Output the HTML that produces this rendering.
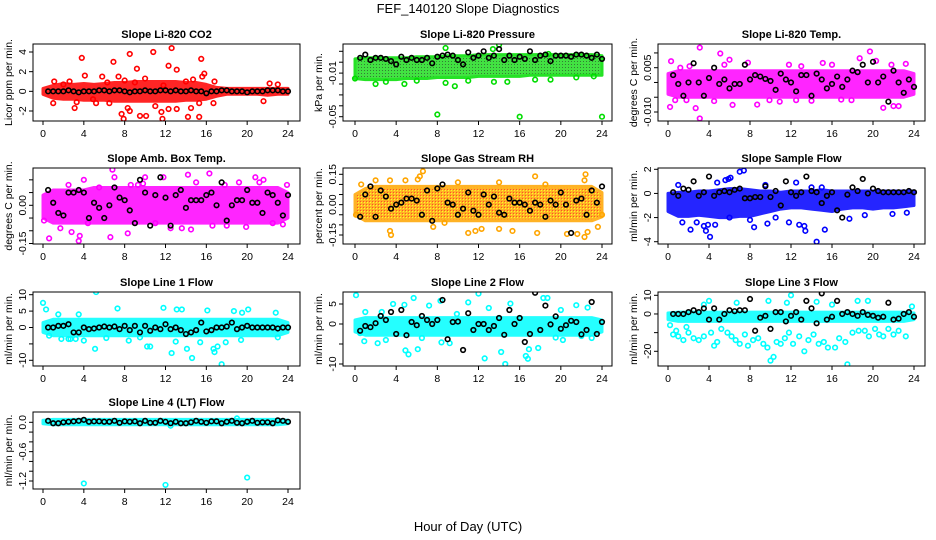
<!DOCTYPE html>
<html><head><meta charset="utf-8"><style>
body{margin:0;background:#fff;}
svg{display:block;font-family:"Liberation Sans",Arial,sans-serif;}
.t{font-size:11px;font-weight:bold;text-anchor:middle;}
.tk{font-size:10.5px;text-anchor:middle;}
.yl{font-size:10.5px;text-anchor:middle;}
</style></head><body>
<svg id="fig" width="936" height="540" viewBox="0 0 936 540">
<defs>
<pattern id="pat-green" width="3" height="3" patternUnits="userSpaceOnUse"><rect width="3" height="3" fill="#22dd22"/><rect x="1" y="1" width="1" height="1" fill="#116611"/></pattern>
<pattern id="pat-orange" width="3" height="3" patternUnits="userSpaceOnUse"><rect width="3" height="3" fill="#ffa500"/><rect x="1" y="1" width="1" height="1" fill="#ffff00"/><rect x="0" y="0" width="1" height="1" fill="#ff3300"/></pattern>
</defs>
<rect width="936" height="540" fill="#fff"/>
<text x="468" y="13" style="font-size:13px" text-anchor="middle">FEF_140120  Slope Diagnostics</text>
<text x="468" y="531" style="font-size:13px" text-anchor="middle">Hour of Day (UTC)</text>
</svg>
<script>
// ---------- data ----------
const blackHours=[0.5,1,1.5,2,2.5,3,3.5,4,4.5,5,5.5,6,6.5,7,7.5,8,8.5,9,9.5,10,10.5,11,11.5,12,12.5,13,13.5,14,14.5,15,15.5,16,16.5,17,17.5,18,18.5,19,19.5,20,20.5,21,21.5,22,22.5,23,23.5,24];
const bandHours=[0,1,2,3,4,5,6,7,8,9,10,11,12,13,14,15,16,17,18,19,20,21,22,23,24];
const xTicks=[0,4,8,12,16,20,24];

const p1Black=[0,0,0,0,0.1,0,-0.1,0,0,0,0.1,0.1,0,0.1,0.1,0,-0.1,0,0,0.1,0,0,0.1,0.1,0,0.1,0,0,0.1,0,0,-0.2,0,0,0.1,0.1,0,0,0,-0.1,0,0,0,0.1,0.1,0.1,0,0];
const p1BandLo=[-0.3,-0.7,-0.8,-0.8,-0.9,-0.9,-0.9,-1.0,-1.0,-1.0,-1.0,-1.0,-1.0,-1.0,-0.9,-0.9,-0.8,-0.5,-0.3,-0.3,-0.3,-0.3,-0.4,-0.3,-0.3];
const p1BandHi=[0.3,0.6,0.8,0.7,0.8,0.7,0.8,0.9,0.9,1.0,1.0,1.0,1.0,1.0,0.9,0.9,0.7,0.4,0.3,0.3,0.3,0.3,0.3,0.3,0.3];
const p1PtX=[3.8,4.1,5.8,6.9,7.4,8.5,9.2,10.8,12.3,12.6,13.1,15.5,15.6,15.8,16.8,1.1,2.6,3.1,3.3,1.0,5.2,6.5,7.7,7.9,8.3,8.5,9.5,10.1,11.0,11.6,11.7,12.3,13.1,14.2,14.5,15.3,15.3,16.7,21.6,22.2,23.0,8.0,9.0,10.0,11.8,14.0,14.7,2.0,4.9,6.3];
const p1PtY=[3.4,1.6,1.5,3.0,1.5,3.8,2.3,4.0,2.6,4.4,2.2,3.3,1.5,1.8,1.0,1.0,1.0,-1.7,-1.1,-1.2,-1.2,-1.2,-2.3,-2.8,-1.7,-2.0,-2.5,-2.5,-1.5,-2.1,-2.8,-1.8,-1.8,-2.6,-1.7,-2.6,-1.2,-1.2,-1.0,0.8,0.7,1.1,0.9,1.3,0.6,1.0,1.2,0.7,-0.8,0.9];

const p2Black=[0.004,0.007,0.002,0.004,0.004,0.003,0.001,-0.002,0.005,0.002,0.004,0.002,0.002,0.004,-0.001,0.005,0.006,0.007,0.006,0.002,-0.002,0.009,0.004,0.006,0.010,0.004,0.006,0.012,0.002,0.006,0.002,0.005,0.003,0.010,0.002,0.006,0.007,0.001,0.006,0.006,0.006,0.005,0.007,0.007,0.006,0.004,0.007,0.003];
const p2BandLo=[-0.015,-0.016,-0.016,-0.016,-0.016,-0.015,-0.015,-0.015,-0.014,-0.014,-0.014,-0.014,-0.013,-0.013,-0.013,-0.013,-0.013,-0.012,-0.012,-0.012,-0.012,-0.012,-0.012,-0.012,-0.012];
const p2BandHi=[0.003,0.004,0.004,0.004,0.004,0.004,0.005,0.005,0.005,0.006,0.006,0.006,0.007,0.007,0.007,0.007,0.007,0.007,0.007,0.007,0.007,0.007,0.007,0.007,0.006];
const p2PtX=[8,16,24,9.7,2,4.8,8.8,13.5,14.8,8.8,14,13.4,18.8,0,3,6,11,17.5,21.5,23.2,19];
const p2PtY=[-0.048,-0.05,-0.05,-0.022,-0.02,-0.02,-0.019,-0.018,-0.018,0.013,0.016,0.012,0.0075,-0.015,-0.018,-0.017,-0.017,-0.016,-0.014,-0.013,-0.016];

const p3Black=[0.0025,-0.0005,-0.0045,0,0.0065,0,-0.0045,0.0015,0.005,-0.0005,0.001,-0.002,-0.0005,-0.0005,0.006,0.001,0.0025,0.002,0.0012,0.0005,-0.0025,0.003,0.001,0,-0.003,0.0025,0.0025,-0.0045,0.003,0.001,-0.002,-0.0005,0.002,-0.0015,0.001,0.004,0.0035,0.006,0,0.007,0,0.002,-0.0065,0.004,0,-0.0035,0.001,-0.0015];
const p3BandLo=[-0.004,-0.005,-0.005,-0.005,-0.005,-0.005,-0.005,-0.005,-0.005,-0.005,-0.005,-0.005,-0.005,-0.005,-0.005,-0.005,-0.005,-0.005,-0.005,-0.005,-0.005,-0.005,-0.005,-0.005,-0.004];
const p3BandHi=[0.003,0.004,0.004,0.004,0.004,0.004,0.004,0.004,0.004,0.004,0.004,0.004,0.004,0.004,0.004,0.004,0.004,0.004,0.004,0.004,0.004,0.004,0.004,0.004,0.003];
const p3PtX=[0.2,0.3,3.1,3.1,2.7,5.1,6.0,6.3,8.7,19.7,18.7,22.0,22.5,20.3,21.0,12.5,10.9,14.0,16.9,0.7,1.8,4.5,7.8,15.1,23.2,9.9,17.9,2.1,11.8,1.2,5.5,13,16,21.8];
const p3PtY=[-0.0083,0.0072,0.0118,-0.0122,-0.0087,0.0098,0.0077,-0.0076,-0.0075,0.0105,0.0082,-0.008,-0.008,0.0073,-0.0086,-0.006,-0.0065,-0.0062,-0.0058,-0.006,-0.006,-0.0063,0.0067,0.0066,0.0063,-0.006,-0.006,0.0055,0.006,0.005,0.006,0.0055,0.006,0.006];

const p4Black=[0.06,0.01,-0.03,-0.04,0.05,0.05,0.06,0.05,-0.05,0.01,-0.01,-0.05,0,0.07,0.03,0.02,-0.02,-0.07,0.1,0.05,-0.08,0.04,0.11,0.03,-0.08,0.04,0.06,-0.01,0.02,0.02,0.02,0.04,0.05,0,0.09,-0.06,0,0.02,0.02,0.06,0.01,0.01,-0.03,0.05,0.04,0.01,-0.04,0.04];
const p4BandLo=[-0.05,-0.07,-0.07,-0.07,-0.07,-0.07,-0.07,-0.07,-0.07,-0.07,-0.07,-0.07,-0.07,-0.07,-0.07,-0.07,-0.07,-0.07,-0.07,-0.07,-0.07,-0.07,-0.07,-0.07,-0.05];
const p4BandHi=[0.04,0.06,0.06,0.06,0.06,0.07,0.07,0.07,0.07,0.07,0.07,0.07,0.07,0.07,0.07,0.07,0.07,0.07,0.07,0.07,0.07,0.07,0.07,0.07,0.05];
const p4PtX=[0.6,3.5,3.6,4.0,6.6,6.8,7.0,10.0,11.8,16.3,16.6,20.8,21.6,23.9,0.1,1.7,2.8,8.3,9.3,13.6,14.5,15,19.2,22.5,23.5,5.5,12.5,18,8.6,4.4,11,17.8,2.5,9.8,14.2,19.9,21.2];
const p4PtY=[-0.13,-0.14,-0.12,0.10,-0.125,0.14,0.11,0.11,0.11,0.125,-0.08,0.11,0.1,0.08,-0.06,-0.09,-0.105,-0.11,0.08,-0.09,-0.095,0.09,0.09,-0.07,-0.075,0.07,-0.09,-0.08,0.08,-0.07,-0.07,0.08,0.08,0.085,0.12,-0.085,0.09];

const p5Black=[-0.06,0.05,0.09,-0.06,0.07,0.04,-0.02,0,0.01,0.03,0.03,0.02,-0.05,0.07,-0.08,0.08,0.1,0.01,0,-0.05,-0.02,0.06,-0.03,-0.05,0.05,0,0.04,-0.04,-0.05,0.03,0.01,0.01,0,-0.03,0.01,0,-0.06,0.02,0,0.06,0,-0.14,0.02,0.03,-0.05,0.07,0.01,0.09];
const p5BandLo=[-0.05,-0.08,-0.08,-0.08,-0.08,-0.08,-0.08,-0.08,-0.08,-0.08,-0.08,-0.08,-0.08,-0.08,-0.08,-0.08,-0.08,-0.08,-0.08,-0.08,-0.08,-0.08,-0.08,-0.08,-0.06];
const p5BandHi=[0.05,0.08,0.09,0.09,0.09,0.09,0.09,0.09,0.09,0.09,0.09,0.09,0.09,0.09,0.09,0.09,0.09,0.09,0.09,0.09,0.09,0.09,0.09,0.09,0.06];
const p5PtX=[6.6,6.1,6.3,17.5,22.4,22.3,22.6,22.3,23.6,3.4,3.5,2.0,3.4,4.9,7.6,8.7,11.0,11.7,12.3,14.0,15.3,17.7,20.6,21.6,10.0,14.0,18.5,0.6,0.1,24];
const p5PtY=[0.165,0.125,0.14,0.14,0.15,0.12,-0.135,-0.16,-0.11,-0.13,-0.15,0.12,0.12,0.12,-0.11,-0.09,-0.14,-0.13,-0.12,-0.12,-0.13,-0.14,-0.145,-0.145,0.11,0.11,0.1,0.1,-0.05,-0.05];

const p6Black=[0.1,-0.2,0.4,0.3,1.0,-0.2,0.1,1.4,-0.2,0.1,0.2,0.1,0.3,0.4,-0.4,-0.4,-0.3,-0.3,0.6,-0.3,0.2,-1.0,1.0,0.1,-0.2,0.1,1.4,0.2,0.1,-0.8,-0.2,0.1,-1.4,-2.0,-0.1,0.5,0.2,1.2,0,0.4,0.2,0.1,0.1,0.1,0.1,0.1,0.2,0.1];
const p6BandLo=[-1.5,-1.9,-1.9,-1.8,-1.9,-2.0,-2.0,-1.9,-1.9,-1.7,-1.5,-1.3,-1.2,-1.2,-1.3,-1.4,-1.5,-1.3,-1.2,-1.2,-1.3,-1.2,-1.2,-1.1,-1.0];
const p6BandHi=[0,0.1,0.1,0.2,0.2,0.3,0.4,0.4,0.3,0.2,0.2,0.1,0.2,0.2,0.2,0.3,0.2,0.2,0.2,0.2,0.2,0.2,0.2,0.2,0.2];
const p6PtX=[7.0,7.4,6.1,5.9,5.6,4.8,1.0,4.1,2.2,3.7,3.9,3.5,13.4,12.8,13.3,14.5,15.3,11.8,1.4,2.8,4.6,9.7,8.4,17.7,19.2,21.9,23.3,12.5,9.5,14.0,15.0,8.0,6.0,10.5];
const p6PtY=[1.8,1.9,1.3,1.2,1.1,0.9,0.7,-3.6,-3.0,-3.1,-2.6,-2.7,-3.1,-2.6,-2.7,-4.0,-3.0,-2.4,-2.4,-2.4,-2.6,-2.5,-2.8,-2.1,-1.8,-1.7,-1.6,0.9,0.7,0.5,0.5,-2.2,-2.0,-2.0];

const p7Black=[0,0,0.5,0.5,1,-1.5,-1.5,0,-0.5,-0.3,0,0.3,0,0.3,-0.5,0.5,-0.8,0.5,-1.5,0.5,-1,0,-0.5,1,-0.5,0,-0.8,-2,-1.5,-0.8,1.5,-1.2,-0.8,0,0,0.3,1.5,-0.5,0,0.5,0,0,0,0,0,-0.3,0,0];
const p7BandLo=[-1.5,-2.5,-2.5,-2.5,-2.5,-2.5,-2.5,-2.5,-2.5,-2.5,-2.5,-2.5,-2.5,-2.5,-2.5,-2.5,-2.5,-2.5,-2.5,-2.5,-2.5,-2.5,-2.5,-2.5,-1.5];
const p7BandHi=[1.5,2.5,2.5,2.5,2.5,2.5,2.5,2.5,2.5,2.5,2.5,2.5,2.5,2.5,2.5,2.5,2.5,2.5,2.5,2.5,2.5,2.5,2.5,2.5,1.5];
const p7PtX=[0,0.3,5.2,5.1,10.2,10.5,12.6,14.1,14.6,16.7,16.8,17.1,17.5,17.9,11.8,13.1,13.6,7.3,16.1,18.7,19.5,20.1,22.8,1.5,3.5,0.6,1.8,2.5,4.0,8.4,9.5,13.0,15.4,19.4,23.0,6.2,2.7,3.2];
const p7PtY=[7.5,5.5,10.8,-6.5,-5.8,-5.8,-7.8,-6.5,-9.3,-6.5,-7.5,-5.8,-11.2,-4.5,6.0,5.5,5.5,5.8,5.2,5.0,4.5,5.5,4.5,4.0,4.0,-2.5,-3.5,-3.5,-4.0,-4.0,-3.0,-4.3,-4.5,-3.8,-3.0,-3.2,-3.5,-3.5];

const p8Black=[-1.7,-0.5,-0.8,0.2,2,1,3,-2.5,3.5,-2.8,0.5,-0.3,2,1,0,1,6,-3.8,0.5,0.6,-6.5,2.7,-1.5,0,0,-1.5,-0.5,1.5,-2.7,3.5,0,1.5,-4.5,-2.5,7.8,-1.5,4.6,-0.1,1.9,-1.2,-0.3,0.8,0.5,-2.6,-1.5,5.5,-2.5,0.5];
const p8BandLo=[-2,-2.8,-2.8,-2.8,-2.8,-2.8,-2.8,-2.8,-2.8,-2.8,-2.8,-2.8,-2.8,-2.8,-2.8,-2.8,-2.8,-2.8,-2.8,-2.8,-2.8,-2.8,-2.8,-2.8,-2];
const p8BandHi=[1,1.6,1.6,1.6,1.6,1.6,1.6,1.6,1.6,1.6,1.6,1.6,1.6,1.6,1.6,1.6,1.6,1.6,1.6,1.6,1.6,1.6,1.6,1.6,1];
const p8PtX=[0.1,0.5,0.9,2.2,4.9,5.2,6.1,8.4,9.2,12.0,12.6,14.2,14.6,16.6,16.8,16.9,17.8,19.5,20.2,22.0,23.0,5.7,4.8,3.7,7.2,8.3,11.0,15.1,18.3,18.7,21.5,22.6,2.6,1.0,13.0,9.9,20.0,3.0,6.5];
const p8PtY=[7.2,-2.3,-4.3,-4.8,-6.6,-7.6,-6.3,-4.6,-4.8,7.6,-8.6,-7.0,-10.0,-8.0,-8.7,-6.3,-6.0,-3.4,-4.0,-3.0,-3.5,6.5,4.8,5.0,4.6,5.8,5.4,5.1,6.5,6.5,4.7,4.1,3.0,3.0,4.0,2.5,3.5,-4.0,-3.5];

const p9Black=[0,0,0,1,2,1,3,-3,3,-3,0,2,1.5,2,2,8,-9,-2,-1,-8,1,1,-4,-1,1,-3,7,3,-5,11,-3,-1.5,7,0,1,0,-1,1,-0.5,-1,-2,-1.5,6,-3,-2.5,0,1,-1.5];
const p9BandLo=[-3,-4,-4,-4,-4,-4,-4,-4,-4,-4,-4,-4,-4,-4,-4,-4,-4,-4,-4,-4,-4,-4,-4,-4,-3];
const p9BandHi=[0.5,1,1,1,1,1,1,1,1,1,1,1,1,1,1,1,1,1,1,1,1,1,1,1,0.5];
const p9PtX=[0.5,0.8,1.0,1.5,2.0,2.5,3.0,3.5,1.8,4.2,4.5,4.8,5.2,5.8,6.2,6.6,7.0,7.5,7.8,8.3,8.8,9.3,9.7,10.0,10.3,10.6,11.0,11.4,11.8,12.2,12.8,13.3,13.7,14.2,14.7,15.2,15.6,16.3,16.7,17.3,17.5,18.0,18.6,19.2,19.6,20.2,20.6,21.0,21.5,22.0,22.5,23.2,0.2,12.0,14.5,16.0,18.5,19.5,4,6.7,23.8,11.6,9.8,3.5];
const p9PtY=[-11,-9,-12,-14,-10,-13,-14,-12,-7,-10,-17,-15,-8,-10,-12,-14,-16,-11,-17,-14,-13,-16,-18,-25,-23,-15,-16,-13,-10,-16,-12,-20,-14,-11,-16,-15,-18,-18,-13,-15,-27,-10,-9,-9,-12,-8,-11,-12,-8,-11,-9,-12,-6,10,6.5,5,7,7,7,6,4,6,7,5];

const p10Black=[0.03,-0.02,-0.02,0,0.01,0.02,0.03,0.05,0.01,0.02,0.02,0.01,0.01,0.03,-0.01,0.02,0.01,0.02,-0.02,0.03,-0.01,-0.01,0.03,0.01,-0.02,0.01,-0.02,-0.02,0,0.03,0.01,-0.01,0.02,0.02,-0.02,0.01,0.03,-0.01,-0.02,0.01,0.03,-0.01,0,0,-0.02,0.04,0.03,0.01];
const p10BandLo=[-0.03,-0.05,-0.05,-0.05,-0.05,-0.05,-0.05,-0.05,-0.05,-0.05,-0.05,-0.05,-0.05,-0.05,-0.05,-0.05,-0.05,-0.05,-0.05,-0.05,-0.05,-0.05,-0.05,-0.05,-0.03];
const p10BandHi=[0.04,0.06,0.06,0.06,0.06,0.06,0.06,0.06,0.06,0.06,0.06,0.06,0.06,0.06,0.06,0.06,0.06,0.06,0.06,0.06,0.06,0.06,0.06,0.06,0.04];
const p10PtX=[4,12,20,19,12.5];
const p10PtY=[-1.25,-1.28,-1.13,0.08,-0.07];

// ---------- layout (pixels) ----------
const NS="http://www.w3.org/2000/svg";
const svg=document.getElementById('fig');
function el(tag,attrs,parent){const e=document.createElementNS(NS,tag);for(const k in attrs)e.setAttribute(k,attrs[k]);(parent||svg).appendChild(e);return e;}
const cols=[{L:33,R:300,x0:43,x24:288},{L:343,R:612,x0:355,x24:602},{L:658,R:925,x0:668,x24:914}];
const rows=[{T:44,B:121},{T:168,B:244},{T:292,B:366},{T:412,B:489}];
const panels=[
 {name:'co2',title:'Slope Li-820 CO2',yl:'Licor ppm per min.',c:0,r:0,v1:4,p1:52,v2:-2,p2:111,ticks:[-2,0,2,4],labels:['-2','0','2','4'],lv:[-2,0,2,4],col:'#ff0000',fill:'#ff0000',black:p1Black,lo:p1BandLo,hi:p1BandHi,px:p1PtX,py:p1PtY},
 {name:'pressure',title:'Slope Li-820 Pressure',yl:'kPa per min.',c:1,r:0,v1:0.01,p1:51.3,v2:-0.05,p2:116.7,ticks:[0.01,0,-0.01,-0.02,-0.03,-0.04,-0.05],labels:['-0.01','-0.05'],lv:[-0.01,-0.05],col:'#00dd00',fill:'url(#pat-green)',black:p2Black,lo:p2BandLo,hi:p2BandHi,px:p2PtX,py:p2PtY},
 {name:'temp',title:'Slope Li-820 Temp.',yl:'degrees C per min.',c:2,r:0,v1:0.005,p1:67.7,v2:-0.01,p2:112,ticks:[0.01,0.005,0,-0.005,-0.01],labels:['0.005','-0.010'],lv:[0.005,-0.01],col:'#ff00ff',fill:'#ff00ff',black:p3Black,lo:p3BandLo,hi:p3BandHi,px:p3PtX,py:p3PtY},
 {name:'amb-box-temp',title:'Slope Amb. Box Temp.',yl:'degrees C per min.',c:0,r:1,v1:0,p1:205.3,v2:-0.15,p2:243.5,ticks:[0.1,0.05,0,-0.05,-0.1,-0.15],labels:['0.00','-0.15'],lv:[0,-0.15],col:'#ff00ff',fill:'#ff00ff',black:p4Black,lo:p4BandLo,hi:p4BandHi,px:p4PtX,py:p4PtY},
 {name:'gas-rh',title:'Slope Gas Stream RH',yl:'percent per min.',c:1,r:1,v1:0.15,p1:174.3,v2:-0.15,p2:235,ticks:[0.15,0.1,0.05,0,-0.05,-0.1,-0.15],labels:['0.15','0.00','-0.15'],lv:[0.15,0,-0.15],col:'#ffa500',fill:'url(#pat-orange)',black:p5Black,lo:p5BandLo,hi:p5BandHi,px:p5PtX,py:p5PtY},
 {name:'sample-flow',title:'Slope Sample Flow',yl:'ml/min per min.',c:2,r:1,v1:2,p1:169.3,v2:-4,p2:241.7,ticks:[2,0,-2,-4],labels:['2','0','-2','-4'],lv:[2,0,-2,-4],col:'#0000ff',fill:'#0000ff',black:p6Black,lo:p6BandLo,hi:p6BandHi,px:p6PtX,py:p6PtY},
 {name:'line1-flow',title:'Slope Line 1 Flow',yl:'ml/min per min.',c:0,r:2,v1:10,p1:294.7,v2:-10,p2:360.3,ticks:[10,5,0,-5,-10],labels:['10','5','0','-10'],lv:[10,5,0,-10],col:'#00ffff',fill:'#00ffff',black:p7Black,lo:p7BandLo,hi:p7BandHi,px:p7PtX,py:p7PtY},
 {name:'line2-flow',title:'Slope Line 2 Flow',yl:'ml/min per min.',c:1,r:2,v1:5,p1:304,v2:-10,p2:364,ticks:[5,0,-5,-10],labels:['5','0','-10'],lv:[5,0,-10],col:'#00ffff',fill:'#00ffff',black:p8Black,lo:p8BandLo,hi:p8BandHi,px:p8PtX,py:p8PtY},
 {name:'line3-flow',title:'Slope Line 3 Flow',yl:'ml/min per min.',c:2,r:2,v1:10,p1:295.3,v2:-20,p2:351.3,ticks:[10,0,-10,-20],labels:['10','0','-20'],lv:[10,0,-20],col:'#00ffff',fill:'#00ffff',black:p9Black,lo:p9BandLo,hi:p9BandHi,px:p9PtX,py:p9PtY},
 {name:'line4-flow',title:'Slope Line 4 (LT) Flow',yl:'ml/min per min.',c:0,r:3,v1:0,p1:422.3,v2:-1.2,p2:481,ticks:[0,-0.2,-0.4,-0.6,-0.8,-1.0,-1.2],labels:['0.0','-0.6','-1.2'],lv:[0,-0.6,-1.2],col:'#00ffff',fill:'#00ffff',black:p10Black,lo:p10BandLo,hi:p10BandHi,px:p10PtX,py:p10PtY}
];

panels.forEach(p=>{
 const C=cols[p.c],Rw=rows[p.r];
 const xs=h=>C.x0+(C.x24-C.x0)*h/24;
 const ys=v=>p.p1+(p.p2-p.p1)*(v-p.v1)/(p.v2-p.v1);
 const g=el('g',{});
 
 
 const title=el('text',{x:(C.L+C.R)/2,y:Rw.T-6,class:'t'},g);title.textContent=p.title;
 
 
 const cid='clip-'+p.name;
 const cp=el('clipPath',{id:cid},g);el('rect',{x:C.L,y:Rw.T,width:C.R-C.L,height:Rw.B-Rw.T},cp);
 const data=el('g',{'clip-path':'url(#'+cid+')'},g);
 let d='';
 bandHours.forEach((h,i)=>{d+=(i?'L':'M')+xs(h).toFixed(1)+','+ys(p.hi[i]).toFixed(1);});
 for(let i=bandHours.length-1;i>=0;i--)d+='L'+xs(bandHours[i]).toFixed(1)+','+ys(p.lo[i]).toFixed(1);
 const band=el('path',{d:d+'Z',fill:p.fill,stroke:p.col,'stroke-width':3,'stroke-linejoin':'round',opacity:0.85},data);
 
 
 p.px.forEach((h,i)=>{
  const c=el('circle',{cx:xs(h),cy:ys(p.py[i]),r:2.3,fill:'none',stroke:p.col,'stroke-width':1.6},data);
  
  
 });
 blackHours.forEach((h,i)=>{
  const c=el('circle',{cx:xs(h),cy:ys(p.black[i]),r:2.3,fill:'none',stroke:'#000','stroke-width':1.6},data);
  
  
 });
 const box=el('rect',{x:C.L,y:Rw.T,width:C.R-C.L,height:Rw.B-Rw.T,fill:'none',stroke:'#000','stroke-width':1},g);
 
 
 el('line',{x1:xs(0),x2:xs(24),y1:Rw.B,y2:Rw.B,stroke:'#000'},g);
 xTicks.forEach(t=>{
  el('line',{x1:xs(t),x2:xs(t),y1:Rw.B,y2:Rw.B+4,stroke:'#000'},g);
  const tx=el('text',{x:xs(t),y:Rw.B+16,class:'tk'},g);tx.textContent=t;
  
  
 });
 const yt=p.ticks.map(ys);
 el('line',{x1:C.L,x2:C.L,y1:Math.min(...yt),y2:Math.max(...yt),stroke:'#000'},g);
 p.ticks.forEach(t=>el('line',{x1:C.L-4,x2:C.L,y1:ys(t),y2:ys(t),stroke:'#000'},g));
 p.lv.forEach((v,i)=>{
  const X=C.L-7,Y=ys(v);
  const tx=el('text',{x:X,y:Y,class:'tk',transform:`rotate(-90 ${X} ${Y})`},g);tx.textContent=p.labels[i];
  
  
 });
 const yx=C.L-21,yy=(Rw.T+Rw.B)/2;
 const ylab=el('text',{x:yx,y:yy,class:'yl',transform:`rotate(-90 ${yx} ${yy})`},g);ylab.textContent=p.yl;
 
 
});
</script>
</body></html>
